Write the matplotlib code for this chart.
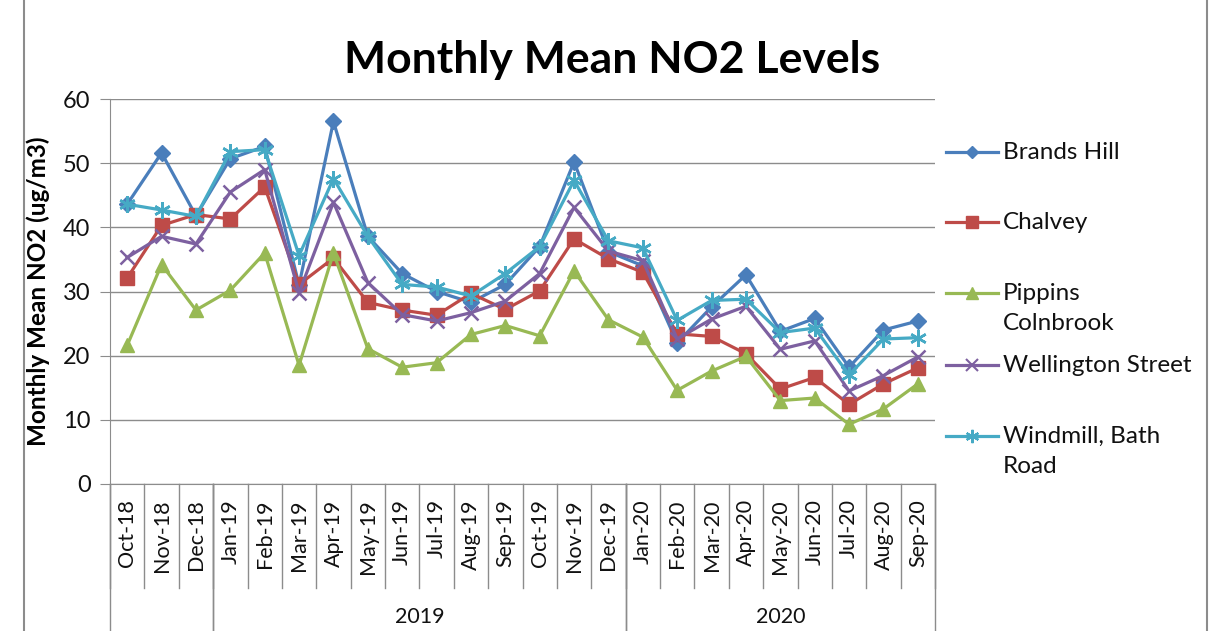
import matplotlib
matplotlib.use("Agg")
import matplotlib.pyplot as plt
from matplotlib.lines import Line2D
import numpy as np

plt.rcParams['font.family'] = ['Lato', 'DejaVu Sans']

months = ["Oct-18", "Nov-18", "Dec-18", "Jan-19", "Feb-19", "Mar-19", "Apr-19", "May-19",
          "Jun-19", "Jul-19", "Aug-19", "Sep-19", "Oct-19", "Nov-19", "Dec-19", "Jan-20",
          "Feb-20", "Mar-20", "Apr-20", "May-20", "Jun-20", "Jul-20", "Aug-20", "Sep-20"]
years = ["", "2019", "2020"]
year_groups = [(0, 3), (3, 15), (15, 24)]

brands_hill = [43.6, 51.6, 41.8, 50.7, 52.6, 31.0, 56.5, 38.6, 32.8, 30.0, 28.3, 31.1,
               37.0, 50.2, 36.2, 34.0, 22.0, 27.6, 32.6, 23.8, 25.8, 18.2, 24.0, 25.4]
chalvey = [32.1, 40.3, 42.0, 41.3, 46.3, 31.1, 35.2, 28.3, 27.1, 26.3, 29.7, 27.2,
           30.1, 38.2, 35.1, 33.0, 23.4, 23.0, 20.3, 14.8, 16.6, 12.4, 15.6, 18.1]
pippins = [21.6, 34.2, 27.1, 30.2, 36.0, 18.5, 36.0, 21.1, 18.2, 18.9, 23.3, 24.7,
           23.1, 33.2, 25.6, 22.9, 14.6, 17.6, 19.9, 13.0, 13.4, 9.3, 11.7, 15.6]
wellington = [35.3, 38.6, 37.4, 45.5, 49.0, 29.8, 43.9, 31.4, 26.4, 25.4, 26.7, 28.5,
              32.8, 43.1, 36.3, 34.8, 22.6, 25.7, 27.7, 21.0, 22.3, 14.5, 16.9, 19.8]
windmill = [43.6, 42.7, 41.7, 51.8, 52.1, 35.6, 47.6, 38.6, 31.1, 30.7, 29.3, 32.8,
            37.0, 47.3, 37.9, 36.8, 25.5, 28.6, 28.8, 23.6, 24.3, 17.0, 22.6, 22.8]

series = [
    ("Brands Hill", brands_hill, "#4A7EBB", "D", 8),
    ("Chalvey", chalvey, "#BE4B48", "s", 10),
    ("Pippins\nColnbrook", pippins, "#98B954", "^", 10),
    ("Wellington Street", wellington, "#7D60A0", "x", 10),
    ("Windmill, Bath\nRoad", windmill, "#46AAC5", (6, 2, 0), 12),
]

GRID = "#8c8c8c"
TXT = "#111111"

fig = plt.figure(figsize=(12.1, 6.31), dpi=100)
ax = fig.add_axes([110 / 1210, 1 - 484 / 631, 825 / 1210, 385 / 631])

x = np.arange(len(months))
for name, vals, col, mk, ms in series:
    ax.plot(x, vals, color=col, lw=2.3, marker=mk, markersize=ms,
            markeredgewidth=1.8 if mk == "x" or isinstance(mk, tuple) else 1,
            markeredgecolor=col, markerfacecolor=col, clip_on=False, zorder=3)

ax.set_xlim(-0.5, len(months) - 0.5)
ax.set_ylim(0, 60)
ax.set_yticks(range(0, 61, 10))
ax.yaxis.grid(True, color=GRID, lw=1)
ax.set_axisbelow(True)
for s in ("top", "right"):
    ax.spines[s].set_visible(False)
for s in ("left", "bottom"):
    ax.spines[s].set_color(GRID)
ax.tick_params(axis="y", length=7, color=GRID, labelsize=17, pad=7, labelcolor=TXT)
ax.set_xticks(x)
ax.set_xticklabels(months, rotation=90, fontsize=15.5, color=TXT)
ax.tick_params(axis="x", length=0, pad=11)

# category separators and year groups
trans = ax.get_xaxis_transform()
for i in range(len(months) + 1):
    ax.add_line(Line2D([i - 0.5, i - 0.5], [0, -0.27], transform=trans,
                       color=GRID, lw=1, clip_on=False))
for (a, b), yr in zip(year_groups, years):
    for edge in (a, b):
        ax.add_line(Line2D([edge - 0.5, edge - 0.5], [0, -0.40], transform=trans,
                           color=GRID, lw=1, clip_on=False))
    if yr:
        ax.text((a + b - 1) / 2, -0.345, yr, transform=trans, ha="center",
                va="center", fontsize=15.5, color=TXT)

ax.set_ylabel("Monthly Mean NO2 (ug/m3)", fontsize=17.5, fontweight="bold", labelpad=9)
fig.text(612 / 1210, 1 - 60 / 631, "Monthly Mean NO2 Levels", ha="center", va="center",
         fontsize=32, fontweight="bold")

# legend drawn by hand so rows keep Excel's even spacing
leg_rows = [152, 222, 293, 365, 436]
for (name, vals, col, mk, ms), yp in zip(series, leg_rows):
    yf = 1 - yp / 631
    fig.add_artist(Line2D([946 / 1210, 998 / 1210], [yf, yf], color=col, lw=2.3))
    fig.add_artist(Line2D([972 / 1210], [yf], marker=mk, markersize=ms * 0.8,
                          color=col, markeredgecolor=col,
                          markeredgewidth=1.5 if mk == "x" or isinstance(mk, tuple) else 1))
    fig.text(1003 / 1210, yf + 10 / 631, name, ha="left", va="top", fontsize=17.5,
             color=TXT, linespacing=1.55)

# chart frame edges
fig.add_artist(Line2D([24 / 1210, 24 / 1210], [0, 1], color=GRID, lw=1.5))
fig.add_artist(Line2D([1207 / 1210, 1207 / 1210], [0, 1], color=GRID, lw=1.5))

fig.savefig("out.png", dpi=100)
